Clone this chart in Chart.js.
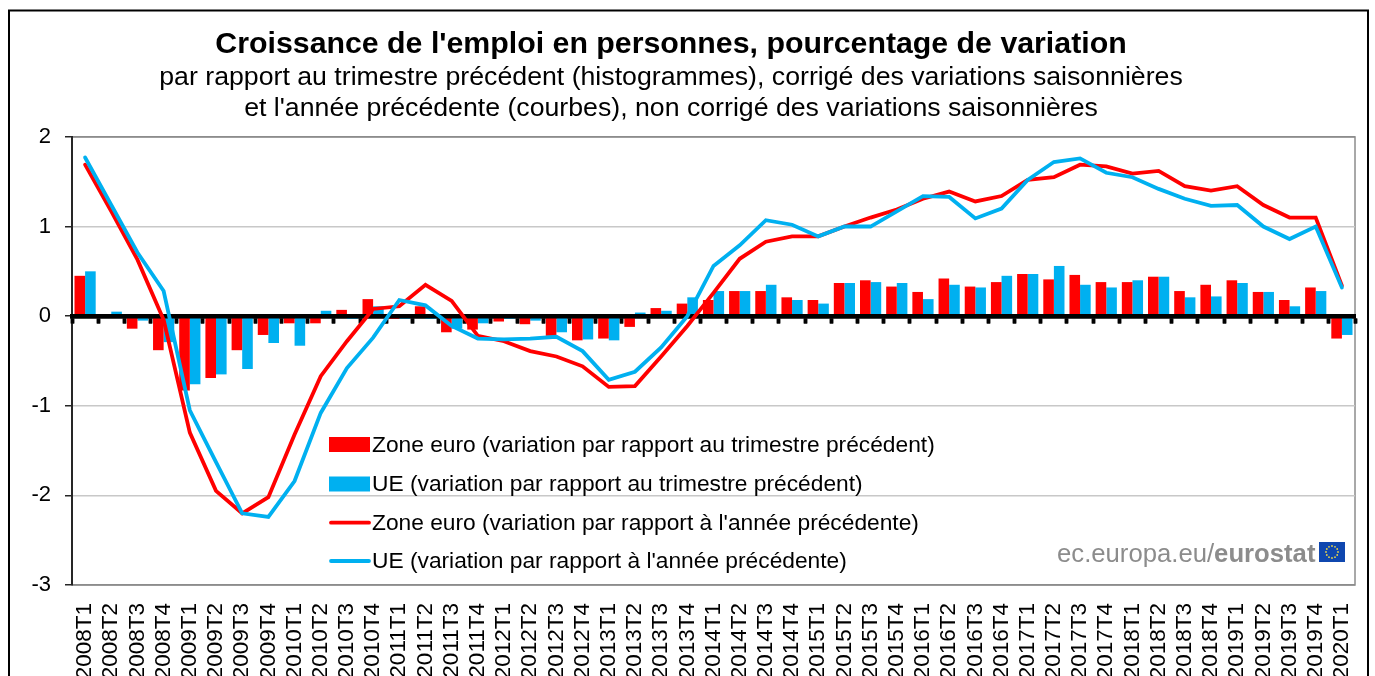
<!DOCTYPE html>
<html>
<head>
<meta charset="utf-8">
<title>Croissance de l'emploi</title>
<script src="https://cdn.jsdelivr.net/npm/chart.js@4"></script>
<style>
  html, body { margin: 0; padding: 0; background: #fff; overflow: hidden; }
  canvas { display: block; }
</style>
</head>
<body>
<canvas id="emploiChart" width="1375" height="676"></canvas>
<script>
const quarters = [
  '2008T1','2008T2','2008T3','2008T4','2009T1','2009T2','2009T3','2009T4',
  '2010T1','2010T2','2010T3','2010T4','2011T1','2011T2','2011T3','2011T4',
  '2012T1','2012T2','2012T3','2012T4','2013T1','2013T2','2013T3','2013T4',
  '2014T1','2014T2','2014T3','2014T4','2015T1','2015T2','2015T3','2015T4',
  '2016T1','2016T2','2016T3','2016T4','2017T1','2017T2','2017T3','2017T4',
  '2018T1','2018T2','2018T3','2018T4','2019T1','2019T2','2019T3','2019T4',
  '2020T1'
];
const zoneQuarter = [
  0.45,-0.02,-0.14,-0.38,-0.83,-0.69,-0.38,-0.21,
  -0.08,-0.08,0.07,0.19,-0.03,0.11,-0.18,-0.15,
  -0.06,-0.09,-0.22,-0.27,-0.25,-0.12,0.09,0.14,
  0.18,0.28,0.28,0.21,0.18,0.37,0.40,0.33,
  0.27,0.42,0.33,0.38,0.47,0.41,0.46,0.38,
  0.38,0.44,0.28,0.35,0.40,0.27,0.18,0.32,
  -0.25
];
const ueQuarter = [
  0.50,0.05,-0.05,-0.29,-0.76,-0.65,-0.59,-0.30,
  -0.33,0.06,-0.03,0.11,-0.03,-0.03,-0.14,-0.08,
  -0.03,-0.05,-0.18,-0.26,-0.27,0.04,0.06,0.21,
  0.28,0.28,0.35,0.18,0.14,0.37,0.38,0.37,
  0.19,0.35,0.32,0.45,0.47,0.56,0.35,0.32,
  0.40,0.44,0.21,0.22,0.37,0.27,0.11,0.28,
  -0.21
];
const zoneYear = [
  1.69,1.17,0.63,-0.04,-1.30,-1.95,-2.20,-2.02,
  -1.32,-0.67,-0.28,0.08,0.11,0.35,0.17,-0.22,
  -0.28,-0.39,-0.45,-0.56,-0.79,-0.78,-0.45,-0.11,
  0.26,0.64,0.83,0.89,0.89,1.00,1.10,1.19,
  1.31,1.39,1.28,1.34,1.52,1.55,1.69,1.67,
  1.59,1.62,1.45,1.40,1.45,1.24,1.10,1.10,
  0.34
];
const ueYear = [
  1.77,1.24,0.71,0.28,-1.05,-1.63,-2.20,-2.24,
  -1.84,-1.08,-0.58,-0.24,0.18,0.12,-0.11,-0.25,
  -0.26,-0.25,-0.23,-0.39,-0.71,-0.62,-0.35,0.00,
  0.56,0.79,1.07,1.02,0.89,1.00,1.00,1.17,
  1.34,1.33,1.09,1.20,1.52,1.72,1.76,1.60,
  1.55,1.42,1.31,1.23,1.24,1.00,0.86,1.00,
  0.32
];

const RED = '#ff0000';
const BLUE = '#00b0f0';
const FONT = '"Liberation Sans", Arial, sans-serif';
const LEGEND_ROWS = [444.5, 484, 522.7, 561];

// zero axis goes over the bars but under the lines, so it is drawn by hand between them
let zeroAxisDone = false;
const zeroAxisPlugin = {
  id: 'zeroAxis',
  beforeDatasetsDraw() { zeroAxisDone = false; },
  beforeDatasetDraw(chart, args) {
    if (!zeroAxisDone && args.meta.type === 'line') {
      chart.scales.x2.draw(chart.chartArea);
      zeroAxisDone = true;
    }
  }
};

const framePlugin = {
  id: 'frame',
  afterLayout(chart) {
    // titles sit centred on the outer frame, not on the canvas
    chart.boxes.filter(b => b.options && b.options.text).forEach(b => {
      b.left -= 6.5;
      b.right -= 6.5;
    });
  },
  beforeDraw(chart) {
    const ctx = chart.ctx;
    const a = chart.chartArea;
    ctx.save();
    ctx.strokeStyle = '#000';
    ctx.lineWidth = 2;
    ctx.strokeRect(9, 10.5, 1359, 700);
    ctx.strokeStyle = '#8c8c8c';
    ctx.lineWidth = 1.5;
    ctx.strokeRect(a.left, a.top, a.width, a.height);
    ctx.restore();
  }
};

// native legend can't put the text this close to the swatches
const legendPlugin = {
  id: 'plotLegend',
  afterDraw(chart) {
    const ctx = chart.ctx;
    ctx.save();
    ctx.font = '22.75px ' + FONT;
    ctx.textBaseline = 'middle';
    ctx.textAlign = 'left';
    chart.data.datasets.forEach((ds, i) => {
      const y = LEGEND_ROWS[i];
      if (ds.type === 'bar') {
        ctx.fillStyle = ds.backgroundColor;
        ctx.fillRect(329, y - 7.5, 41, 15);
      } else {
        ctx.strokeStyle = ds.borderColor;
        ctx.lineWidth = ds.borderWidth;
        ctx.lineCap = 'round';
        ctx.beginPath();
        ctx.moveTo(331, y);
        ctx.lineTo(369, y);
        ctx.stroke();
      }
      ctx.fillStyle = '#000';
      ctx.fillText(ds.label, 372, y + 1);
    });
    ctx.restore();
  }
};

const sourcePlugin = {
  id: 'source',
  afterDraw(chart) {
    const ctx = chart.ctx;
    ctx.save();
    ctx.textBaseline = 'alphabetic';
    ctx.textAlign = 'left';
    ctx.fillStyle = '#8c8c8c';
    ctx.font = '25.7px ' + FONT;
    const plain = 'ec.europa.eu/';
    ctx.fillText(plain, 1057, 562);
    const w = ctx.measureText(plain).width;
    ctx.font = 'bold 25.7px ' + FONT;
    ctx.fillText('eurostat', 1057 + w, 562);
    // EU flag
    ctx.fillStyle = '#0f47af';
    ctx.fillRect(1319, 542, 26, 20);
    ctx.fillStyle = '#e8d44a';
    for (let i = 0; i < 12; i++) {
      const t = i * Math.PI / 6;
      ctx.beginPath();
      ctx.arc(1332 + 6 * Math.cos(t), 552 + 6 * Math.sin(t), 0.9, 0, Math.PI * 2);
      ctx.fill();
    }
    ctx.restore();
  }
};

new Chart(document.getElementById('emploiChart').getContext('2d'), {
  type: 'bar',
  data: {
    labels: quarters,
    datasets: [
      { type: 'bar', label: 'Zone euro (variation par rapport au trimestre précédent)', data: zoneQuarter,
        backgroundColor: RED, borderWidth: 0, order: 2, barPercentage: 1, categoryPercentage: 0.81 },
      { type: 'bar', label: 'UE (variation par rapport au trimestre précédent)', data: ueQuarter,
        backgroundColor: BLUE, borderWidth: 0, order: 3, barPercentage: 1, categoryPercentage: 0.81 },
      { type: 'line', label: "Zone euro (variation par rapport à l'année précédente)", data: zoneYear,
        borderColor: RED, backgroundColor: RED, borderWidth: 3.8, pointRadius: 0, tension: 0, order: 1, borderCapStyle: 'round' },
      { type: 'line', label: "UE (variation par rapport à l'année précédente)", data: ueYear,
        borderColor: BLUE, backgroundColor: BLUE, borderWidth: 3.8, pointRadius: 0, tension: 0, order: 0, borderCapStyle: 'round' }
    ]
  },
  plugins: [framePlugin, zeroAxisPlugin, legendPlugin, sourcePlugin],
  options: {
    responsive: false,
    animation: false,
    layout: { autoPadding: false, padding: { left: 0, right: 20, top: 0, bottom: 0 } },
    plugins: {
      title: {
        display: true,
        text: "Croissance de l'emploi en personnes, pourcentage de variation",
        color: '#000',
        font: { family: FONT, size: 30.3, weight: 'bold', lineHeight: 1.2 },
        padding: { top: 26, bottom: 0 }
      },
      subtitle: {
        display: true,
        text: ['par rapport au trimestre précédent (histogrammes), corrigé des variations saisonnières',
               "et l'année précédente (courbes), non corrigé des variations saisonnières"],
        color: '#000',
        font: { family: FONT, size: 26.7, weight: 'normal', lineHeight: 1.16 },
        padding: { top: 0, bottom: 12.6 }
      },
      legend: { display: false },
      tooltip: { enabled: false }
    },
    scales: {
      x: {
        type: 'category',
        offset: true,
        grid: { display: false },
        border: { display: false },
        ticks: {
          color: '#000',
          font: { family: FONT, size: 22.5 },
          autoSkip: false,
          minRotation: 90,
          maxRotation: 90,
          padding: 10
        },
        afterFit(scale) {
          scale.height = 91;
          scale.paddingLeft = 0;
          scale.paddingRight = 0;
        }
      },
      x2: {
        type: 'category',
        labels: quarters,
        position: { y: 0 },
        offset: true,
        grid: { drawOnChartArea: false, offset: true, tickLength: 5, tickWidth: 3.5, tickColor: '#000' },
        border: { color: '#000', width: 4.5 },
        ticks: { display: false },
        afterFit(scale) {
          scale.paddingLeft = 0;
          scale.paddingRight = 0;
        }
      },
      y: {
        type: 'linear',
        min: -3,
        max: 2,
        grid: {
          color: ctx => (ctx.tick && (ctx.tick.value === 2 || ctx.tick.value === -3)) ? '#8c8c8c' : '#c8c8c8',
          lineWidth: 1.5,
          tickColor: '#262626',
          tickLength: 7
        },
        border: { color: '#262626', width: 2 },
        ticks: {
          stepSize: 1,
          color: '#000',
          font: { family: FONT, size: 22 },
          padding: 14
        },
        afterFit(scale) { scale.width = 72; }
      }
    }
  }
});
</script>
</body>
</html>
